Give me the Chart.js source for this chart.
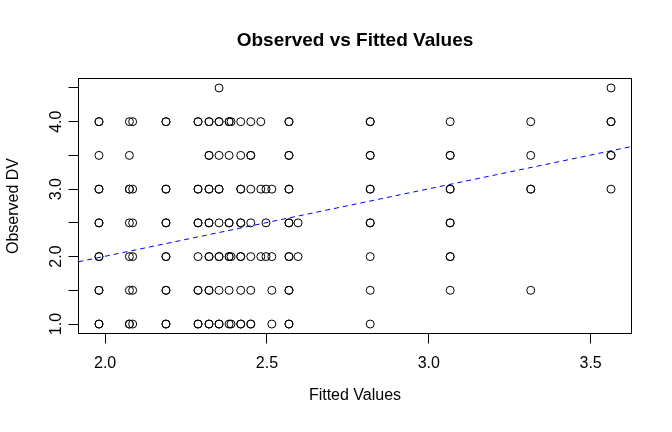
<!DOCTYPE html>
<html><head><meta charset="utf-8">
<script src="https://cdn.jsdelivr.net/npm/chart.js@4"></script>
<style>html,body{margin:0;padding:0;background:#fff}canvas{display:block}</style>
</head><body>
<canvas id="c" width="672" height="432"></canvas>
<script>
// Fitted-value columns (x) and the observed values found at each column (duplicates = overplotted)
const fittedCols = [1.981, 2.075, 2.085, 2.188, 2.287, 2.321, 2.352, 2.383, 2.389, 2.419, 2.450,
                    2.481, 2.497, 2.515, 2.568, 2.596, 2.819, 3.066, 3.315, 3.563];
const observedByCol = [
  [4,4,3.5,3,3,2.5,2.5,2,2,1.5,1.5,1,1],
  [4,3.5,3,3,2.5,2,1.5,1,1],
  [4,3,2.5,2,1.5,1],
  [4,4,3,3,2.5,2.5,2,2,1.5,1.5,1,1],
  [4,4,3,3,2.5,2.5,2,1.5,1.5,1,1],
  [4,4,3.5,3.5,3,3,2.5,2.5,2,2,1.5,1.5,1,1],
  [4.5,4,4,3.5,3,3,2.5,2,2,1.5,1,1],
  [4,4,3.5,2.5,2.5,2,2,1.5,1],
  [4,2,1],
  [4,3.5,3,3,2.5,2.5,2,2,1.5,1,1],
  [4,3.5,3.5,3,2.5,2,1.5,1,1],
  [4,3,2],
  [3,2.5,2],
  [3,2,1.5,1],
  [4,4,3.5,3.5,3,3,2.5,2.5,2,2,1.5,1.5,1,1],
  [2.5,2],
  [4,4,3.5,3.5,3,3,2.5,2.5,2,1.5,1],
  [4,3.5,3.5,3,3,2.5,2.5,2,2,1.5],
  [4,3.5,3,3,1.5],
  [4.5,4,4,3.5,3.5,3]
];
const xTicks = [2.0, 2.5, 3.0, 3.5];
const xTickLabels = ['2.0', '2.5', '3.0', '3.5'];
const yTicks = [1.0, 1.5, 2.0, 2.5, 3.0, 3.5, 4.0, 4.5];
const yTickLabels = ['1.0', '', '2.0', '', '3.0', '', '4.0', ''];
const fitIntercept = 0.005;
const fitSlope = 1.0;

const points = [];
fittedCols.forEach((fx, i) => observedByCol[i].forEach(oy => points.push({x: fx, y: oy})));

// R-style axis ranges: data range extended by 4% on each side
function rRange(vals) {
  const lo = Math.min(...vals), hi = Math.max(...vals), d = hi - lo;
  return [lo - 0.04 * d, hi + 0.04 * d];
}
const xr = rRange(fittedCols);
const yr = rRange(observedByCol.flat());
const fitLine = [{x: xr[0], y: fitIntercept + fitSlope * xr[0]}, {x: xr[1], y: fitIntercept + fitSlope * xr[1]}];

const FONT = 'Liberation Sans, Arial, Helvetica, sans-serif';
const boxPlugin = {
  id: 'box',
  afterDatasetsDraw(chart) {
    const {ctx, chartArea: a} = chart;
    ctx.save();
    ctx.strokeStyle = '#000';
    ctx.lineWidth = 1;
    ctx.strokeRect(a.left, a.top, a.right - a.left, a.bottom - a.top);
    ctx.restore();
  }
};

new Chart(document.getElementById('c'), {
  type: 'scatter',
  data: {
    datasets: [
      {
        data: points,
        pointStyle: 'circle',
        pointRadius: 4,
        pointBorderWidth: 1,
        pointBorderColor: '#000',
        pointBackgroundColor: 'rgba(0,0,0,0)',
        showLine: false
      },
      {
        type: 'line',
        data: fitLine,
        borderColor: '#0000FF',
        borderWidth: 1,
        borderDash: [5, 4],
        pointRadius: 0,
        fill: false
      }
    ]
  },
  options: {
    responsive: false,
    animation: false,
    devicePixelRatio: 1,
    layout: {padding: {left: 0, right: 40.5, top: 0, bottom: 0}},
    plugins: {
      legend: {display: false},
      tooltip: {enabled: false},
      title: {
        display: true,
        text: 'Observed vs Fitted Values',
        fullSize: false,
        color: '#000',
        font: {family: FONT, size: 19, weight: 'bold'},
        padding: {top: 29.6, bottom: 26.1}
      }
    },
    scales: {
      x: {
        type: 'linear',
        min: xr[0], max: xr[1],
        afterBuildTicks: s => { s.ticks = xTicks.map(v => ({value: v})); },
        ticks: {
          autoSkip: false, maxRotation: 0, color: '#000', padding: 10.6,
          font: {family: FONT, size: 16},
          callback: v => xTickLabels[xTicks.indexOf(v)]
        },
        grid: {drawOnChartArea: false, drawTicks: true, tickLength: 10, color: '#000'},
        border: {display: false},
        title: {display: true, text: 'Fitted Values', color: '#000', font: {family: FONT, size: 16}, padding: {top: 0, bottom: 26.4}},
        afterFit: s => { s.height = 98.5; s.paddingLeft = 0; s.paddingRight = 0; }
      },
      y: {
        type: 'linear',
        min: yr[0], max: yr[1],
        afterBuildTicks: s => { s.ticks = yTicks.map(v => ({value: v})); },
        ticks: {
          autoSkip: false, minRotation: 90, maxRotation: 90, crossAlign: 'center', color: '#000', padding: 1.2,
          font: {family: FONT, size: 16},
          callback: v => yTickLabels[yTicks.indexOf(v)]
        },
        grid: {drawOnChartArea: false, drawTicks: true, tickLength: 10, color: '#000'},
        border: {display: false},
        title: {display: true, text: 'Observed DV', color: '#000', font: {family: FONT, size: 16}, padding: {top: 4.4, bottom: 0}},
        afterFit: s => { s.width = 78.5; s.paddingTop = 0; s.paddingBottom = 0; }
      }
    }
  },
  plugins: [boxPlugin]
});
</script>
</body></html>
